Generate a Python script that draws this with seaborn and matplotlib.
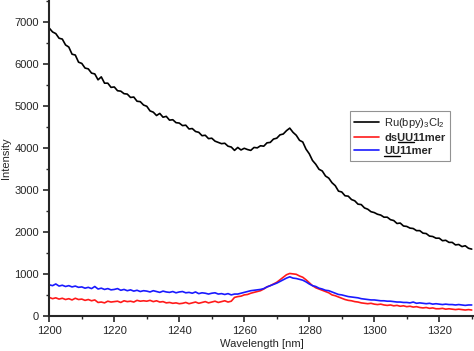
import numpy as np
import pandas as pd
import seaborn as sns
import matplotlib.pyplot as plt
from matplotlib.ticker import MultipleLocator
from matplotlib.lines import Line2D
from matplotlib.transforms import IdentityTransform

# wavelength axis (nm), 1 nm steps
wavelength = list(range(1200, 1331))

# Ru(bpy)3Cl2 emission
ru_bpy = [
    6850, 6760, 6720, 6610, 6590, 6450, 6400, 6230, 6210, 6040,
    6010, 5900, 5880, 5780, 5760, 5620, 5690, 5540, 5540, 5440,
    5450, 5360, 5350, 5290, 5280, 5200, 5210, 5110, 5100, 5020,
    4990, 4880, 4850, 4770, 4820, 4730, 4750, 4660, 4670, 4600,
    4590, 4530, 4540, 4450, 4460, 4390, 4370, 4290, 4300, 4220,
    4230, 4160, 4130, 4100, 4110, 4040, 4020, 3940, 4010, 3950,
    3990, 3960, 3940, 4010, 4000, 4050, 4040, 4120, 4130, 4210,
    4230, 4310, 4330, 4410, 4470, 4370, 4300, 4180, 4140, 3970,
    3860, 3700, 3610, 3490, 3450, 3330, 3280, 3170, 3100, 2970,
    2950, 2860, 2850, 2770, 2740, 2660, 2650, 2570, 2540, 2480,
    2460, 2420, 2400, 2350, 2350, 2290, 2270, 2200, 2210, 2140,
    2130, 2090, 2080, 2030, 2030, 1970, 1960, 1900, 1890, 1850,
    1850, 1790, 1800, 1750, 1750, 1690, 1700, 1650, 1670, 1610,
    1590,
]

# dsUU11mer
ds_uu = [
    440, 410, 430, 400, 420, 390, 410, 380, 420, 390,
    400, 370, 390, 360, 380, 320, 330, 310, 350, 330,
    340, 350, 320, 360, 340, 350, 330, 370, 350, 360,
    350, 370, 340, 360, 330, 340, 310, 320, 300, 310,
    290, 300, 320, 290, 310, 330, 300, 320, 340, 310,
    330, 350, 320, 340, 360, 330, 350, 440, 460, 470,
    500, 510, 540, 560, 580, 600, 640, 690, 720, 760,
    800, 860, 920, 980, 1010, 1000, 990, 950, 920, 860,
    790, 720, 670, 640, 610, 580, 550, 500, 480, 450,
    420, 390, 370, 360, 340, 330, 310, 300, 290, 300,
    280, 270, 280, 260, 250, 260, 240, 250, 230, 240,
    220, 230, 210, 220, 200, 190, 200, 180, 190, 170,
    170, 180, 160, 170, 160, 150, 160, 150, 140, 150,
    140,
]

# UU11mer
uu = [
    740, 720, 760, 710, 730, 700, 720, 690, 710, 680,
    690, 660, 680, 650, 700, 640, 660, 630, 650, 620,
    630, 650, 610, 630, 600, 620, 590, 610, 580, 600,
    590, 570, 600, 580, 560, 590, 570, 560, 580, 550,
    570, 580, 550, 560, 540, 570, 530, 550, 540, 520,
    540, 550, 520, 530, 510, 530, 500, 520, 520, 540,
    560, 580, 600, 610, 620, 630, 650, 690, 720, 750,
    780, 820, 860, 900, 930, 900, 890, 870, 850, 810,
    760, 720, 700, 660, 640, 610, 600, 570, 540, 510,
    500, 480, 460, 450, 440, 430, 410, 400, 390, 380,
    380, 370, 360, 360, 350, 350, 340, 330, 330, 320,
    320, 310, 330, 300, 310, 300, 290, 300, 280, 290,
    280, 270, 280, 270, 270, 260, 270, 260, 250, 260,
    260,
]

labels = ["Ru(bpy)$_3$Cl$_2$", "dsUU11mer", "UU11mer"]
# part of each label that is underlined (prefix, underlined text)
underlined = {1: ("ds", "UU"), 2: ("", "UU")}
colors = ["black", "#ff1a1a", "#1a1aff"]

df = pd.concat([
    pd.DataFrame({"Wavelength": wavelength, "Intensity": ru_bpy, "Sample": labels[0]}),
    pd.DataFrame({"Wavelength": wavelength, "Intensity": ds_uu, "Sample": labels[1]}),
    pd.DataFrame({"Wavelength": wavelength, "Intensity": uu, "Sample": labels[2]}),
])

sns.set_style("ticks")
plt.rcParams["font.family"] = ["Liberation Sans", "DejaVu Sans"]
plt.rcParams["mathtext.default"] = "regular"

fig = plt.figure(figsize=(4.74, 3.51), dpi=100)
ax = fig.add_axes([0.104, 0.1, 0.896, 0.9])

sns.lineplot(data=df, x="Wavelength", y="Intensity", hue="Sample",
             palette=dict(zip(labels, colors)), linewidth=1.2, ax=ax)

ax.set_xlim(1200, 1330.7)
ax.set_ylim(0, 7520)
ax.xaxis.set_major_locator(MultipleLocator(20))
ax.xaxis.set_minor_locator(MultipleLocator(10))
ax.yaxis.set_major_locator(MultipleLocator(1000))
ax.yaxis.set_minor_locator(MultipleLocator(500))
ax.tick_params(which="major", length=4, width=1.2, labelsize=8, direction="out")
ax.tick_params(which="minor", length=2.5, width=1.0, direction="out")
for s in ["left", "bottom"]:
    ax.spines[s].set_linewidth(1.5)
sns.despine(ax=ax)

ax.set_xlabel("Wavelength [nm]", fontsize=8, labelpad=2)
ax.set_ylabel("Intensity", fontsize=8, labelpad=2)

leg = ax.legend(loc="upper left", bbox_to_anchor=(0.708, 0.648), fontsize=8,
                frameon=True, fancybox=False, edgecolor="#777777",
                handlelength=2.2, borderpad=0.4, labelspacing=0.3,
                handletextpad=0.5, borderaxespad=0)
leg.get_frame().set_linewidth(0.8)
for t in leg.get_texts()[1:]:
    t.set_fontweight("bold")

# draw the underlines under "UU", just below the text baseline
fig.canvas.draw()
renderer = fig.canvas.get_renderer()
for i, (pre, part) in underlined.items():
    t = leg.get_texts()[i]
    x0, base = t.get_transform().transform(t.get_unitless_position())
    prop = t.get_fontproperties()
    w_pre = renderer.get_text_width_height_descent(pre, prop, ismath=False)[0] if pre else 0
    w_part = renderer.get_text_width_height_descent(pre + part, prop, ismath=False)[0]
    y = base - 1.5
    fig.add_artist(Line2D([x0 + w_pre, x0 + w_part], [y, y],
                          transform=IdentityTransform(), color="black", lw=1.0))

fig.savefig("out.png", dpi=100)
